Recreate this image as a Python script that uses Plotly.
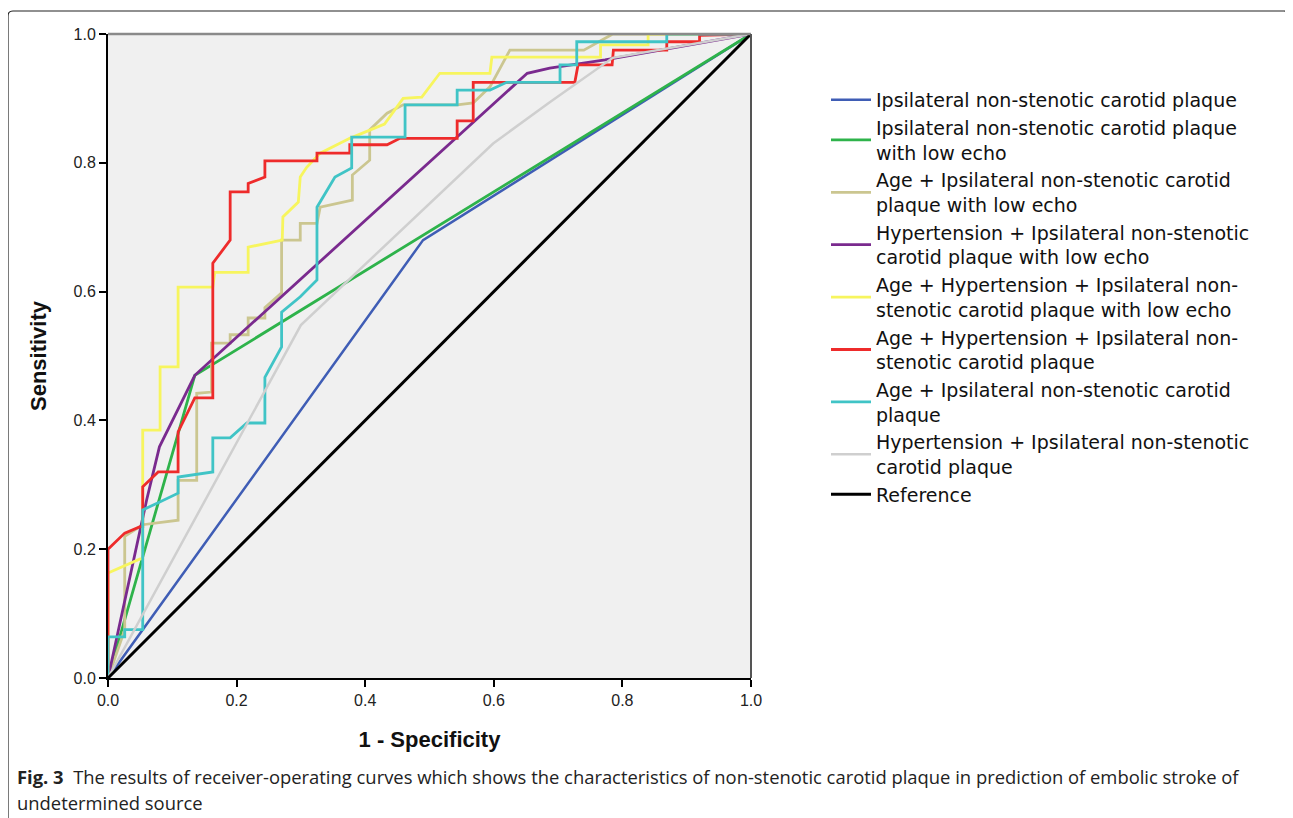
import plotly.graph_objects as go

# ---------------- data ----------------
names = [
    "Ipsilateral non-stenotic carotid plaque",
    "Ipsilateral non-stenotic carotid plaque<br>with low echo",
    "Age + Ipsilateral non-stenotic carotid<br>plaque with low echo",
    "Hypertension + Ipsilateral non-stenotic<br>carotid plaque with low echo",
    "Age + Hypertension + Ipsilateral non-<br>stenotic carotid plaque with low echo",
    "Age + Hypertension + Ipsilateral non-<br>stenotic carotid plaque",
    "Age + Ipsilateral non-stenotic carotid<br>plaque",
    "Hypertension + Ipsilateral non-stenotic<br>carotid plaque",
    "Reference",
]

blue_x = [0, 0.49, 1]
blue_y = [0, 0.68, 1]

green_x = [0, 0.135, 1]
green_y = [0, 0.47, 1]

tan_x = [0, 0.026, 0.026, 0.054, 0.109, 0.109, 0.138, 0.138, 0.161, 0.161, 0.19, 0.19,
         0.218, 0.218, 0.244, 0.244, 0.27, 0.27, 0.299, 0.299, 0.325, 0.33, 0.38, 0.38,
         0.407, 0.407, 0.434, 0.459, 0.543, 0.568, 0.594, 0.625, 0.74, 0.785, 1]
tan_y = [0, 0.075, 0.22, 0.238, 0.245, 0.307, 0.307, 0.442, 0.444, 0.52, 0.52, 0.533,
         0.533, 0.559, 0.559, 0.575, 0.598, 0.68, 0.68, 0.706, 0.706, 0.731, 0.742, 0.781,
         0.804, 0.851, 0.877, 0.89, 0.89, 0.893, 0.918, 0.975, 0.975, 1.0, 1]

purple_x = [0, 0.06, 0.08, 0.135, 0.652, 0.687, 0.773, 1]
purple_y = [0, 0.276, 0.359, 0.47, 0.939, 0.947, 0.96, 1]

yellow_x = [0, 0, 0.05, 0.054, 0.054, 0.081, 0.081, 0.109, 0.109, 0.163, 0.166, 0.218,
            0.218, 0.271, 0.272, 0.296, 0.299, 0.309, 0.33, 0.376, 0.43, 0.459, 0.488,
            0.516, 0.594, 0.597, 0.766, 0.766, 0.84, 0.84, 1]
yellow_y = [0, 0.163, 0.185, 0.185, 0.385, 0.385, 0.483, 0.483, 0.607, 0.607, 0.63, 0.63,
            0.669, 0.68, 0.716, 0.739, 0.778, 0.793, 0.815, 0.838, 0.86, 0.90, 0.902,
            0.939, 0.939, 0.964, 0.964, 0.983, 0.983, 1.0, 1]

red_x = [0, 0, 0.026, 0.05, 0.054, 0.054, 0.078, 0.109, 0.109, 0.135, 0.163, 0.163,
         0.19, 0.19, 0.218, 0.218, 0.244, 0.244, 0.325, 0.325, 0.376, 0.376, 0.434,
         0.454, 0.543, 0.543, 0.568, 0.568, 0.726, 0.731, 0.784, 0.786, 0.869, 0.869,
         0.92, 0.92, 1]
red_y = [0, 0.2, 0.225, 0.235, 0.235, 0.297, 0.32, 0.32, 0.382, 0.435, 0.435, 0.644,
         0.68, 0.755, 0.755, 0.768, 0.778, 0.803, 0.803, 0.815, 0.815, 0.828, 0.828,
         0.838, 0.838, 0.865, 0.865, 0.925, 0.925, 0.952, 0.952, 0.975, 0.975, 0.988,
         0.988, 0.998, 1]

cyan_x = [0, 0, 0.026, 0.026, 0.054, 0.054, 0.078, 0.109, 0.109, 0.163, 0.163, 0.19,
          0.216, 0.244, 0.244, 0.27, 0.27, 0.299, 0.325, 0.325, 0.353, 0.379, 0.379,
          0.462, 0.462, 0.543, 0.543, 0.594, 0.62, 0.703, 0.703, 0.729, 0.729, 0.869,
          0.869, 1]
cyan_y = [0, 0.064, 0.064, 0.075, 0.075, 0.261, 0.272, 0.287, 0.312, 0.32, 0.373, 0.373,
          0.396, 0.396, 0.467, 0.514, 0.568, 0.592, 0.618, 0.731, 0.778, 0.792, 0.84,
          0.84, 0.89, 0.89, 0.913, 0.913, 0.925, 0.925, 0.952, 0.952, 0.988, 0.988,
          1.0, 1]

gray_x = [0, 0.30, 0.599, 0.687, 0.785, 1]
gray_y = [0, 0.548, 0.83, 0.894, 0.963, 1]

ref_x = [0, 1]
ref_y = [0, 1]

tick_vals = [0.0, 0.2, 0.4, 0.6, 0.8, 1.0]
tick_text = ["0.0", "0.2", "0.4", "0.6", "0.8", "1.0"]

series_x = [blue_x, green_x, tan_x, purple_x, yellow_x, red_x, cyan_x, gray_x, ref_x]
series_y = [blue_y, green_y, tan_y, purple_y, yellow_y, red_y, cyan_y, gray_y, ref_y]
colors = ["#3f5db5", "#2eb34b", "#cbc690", "#7a2a8e", "#f7f55e", "#ee2b2b",
          "#40c4c6", "#cfcfcf", "#000000"]
widths = [2.5, 2.8, 2.8, 2.8, 2.8, 2.8, 2.8, 2.5, 3.0]

fig = go.Figure()
for nm, xs, ys, c, w in zip(names, series_x, series_y, colors, widths):
    fig.add_trace(go.Scatter(x=xs, y=ys, mode="lines", name=nm,
                             line=dict(color=c, width=w), hoverinfo="skip"))

# the page body adds an 8px margin; work in page pixels and convert
OX, OY = 8, 8
W, H = 1293 - OX, 818 - OY
L, R, T, B = 108 - OX, 751 - OX, 34 - OY, 678 - OY   # plot area (figure pixels)
pw, ph = R - L, B - T
def px(x):   # page pixel -> paper x
    return (x - OX - L) / pw
def py(y):   # page pixel -> paper y
    return (B - (y - OY)) / ph

fig.update_layout(
    width=W, height=H,
    margin=dict(l=L, r=W - R, t=T, b=H - B, pad=0),
    paper_bgcolor="white",
    plot_bgcolor="#f0f0f0",
    font=dict(family="Liberation Sans, Arial, sans-serif", color="#222222"),
    showlegend=True,
    legend=dict(
        x=px(826), y=py(81), xanchor="left", yanchor="top",
        font=dict(size=19, color="#111111", family="DejaVu Sans, Liberation Sans, sans-serif"),
        bgcolor="rgba(0,0,0,0)", tracegroupgap=0, itemwidth=40,
    ),
)

fig.update_xaxes(
    range=[0, 1], tickvals=tick_vals, ticktext=tick_text,
    showgrid=False, zeroline=False, showline=True, linecolor="black", linewidth=2,
    ticks="outside", ticklen=7, tickwidth=1.5, tickcolor="black",
    tickfont=dict(size=16, color="#222222"),
    title=dict(text="<b>1 - Specificity</b>", font=dict(size=22, color="#111111"), standoff=23),
    fixedrange=True,
)
fig.update_yaxes(
    range=[0, 1], tickvals=tick_vals, ticktext=tick_text,
    showgrid=False, zeroline=False, showline=True, linecolor="black", linewidth=2,
    ticks="outside", ticklen=7, tickwidth=1.5, tickcolor="black",
    tickfont=dict(size=16, color="#222222"),
    title=dict(text="<b>Sensitivity</b>", font=dict(size=22, color="#111111"), standoff=21),
    fixedrange=True,
)

# frame (top / right border of plot) in gray
fig.add_shape(type="line", xref="paper", yref="paper", x0=0, x1=1, y0=1, y1=1,
              line=dict(color="#8a8a8a", width=2.5))
fig.add_shape(type="line", xref="paper", yref="paper", x0=1, x1=1, y0=0, y1=1,
              line=dict(color="#555555", width=2))

# outer figure-panel border (open at bottom)
fig.add_shape(type="path", xref="paper", yref="paper",
              path=f"M {px(8)},{py(822)} L {px(8)},{py(16)} Q {px(8)},{py(11)} {px(13)},{py(11)} "
                   f"L {px(1284)},{py(11)} Q {px(1289)},{py(11)} {px(1289)},{py(16)} L {px(1289)},{py(40)}",
              line=dict(color="#222222", width=1.2))

# caption
cap_font = dict(size=18.4, family="Open Sans, Liberation Sans, sans-serif", color="#222222")
fig.add_annotation(
    xref="paper", yref="paper", x=px(15), y=py(776), xanchor="left", yanchor="middle",
    showarrow=False, align="left",
    text="<b>Fig. 3</b>  The results of receiver-operating curves which shows the characteristics of "
         "non-stenotic carotid plaque in prediction of embolic stroke of",
    font=cap_font,
)
fig.add_annotation(
    xref="paper", yref="paper", x=px(15), y=py(802), xanchor="left", yanchor="middle",
    showarrow=False, align="left", text="undetermined source",
    font=cap_font,
)

fig.write_html("out.html")
